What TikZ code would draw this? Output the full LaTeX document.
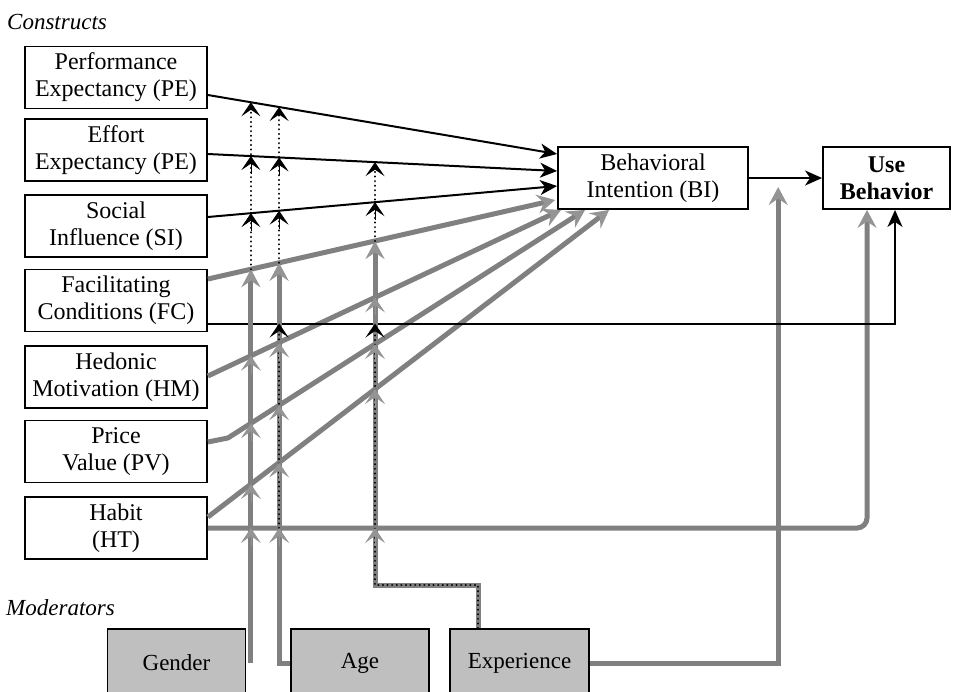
\documentclass[tikz,border=0pt]{standalone}
\usepackage{fontspec}
\setmainfont{Liberation Serif}
\usetikzlibrary{arrows.meta,calc,intersections}
\newcommand\crosstip[3]{%
  \path[name intersections={of=#2 and #3, by=xp}];
  \draw[#1] ($(xp)+(0,18)$) -- (xp);}
\begin{document}
\begin{tikzpicture}[x=1pt,y=-1pt,
  cbox/.style={draw=black, line width=1.8pt, minimum width=182pt, minimum height=62pt,
    inner sep=0pt, align=center, font=\fontsize{24}{27}\selectfont},
  mbox/.style={draw=black, line width=1.8pt, fill=black!25, minimum width=138pt,
    minimum height=68pt, inner sep=0pt, font=\fontsize{23}{27}\selectfont},
  lbl/.style={anchor=west, inner sep=0pt, font=\itshape\fontsize{23}{27}\selectfont},
  bline/.style={draw=black, line width=2pt, -{Stealth[length=17pt,width=15pt,inset=5pt]}},
  gline/.style={draw=black!50, line width=5pt, -{Stealth[length=18pt,width=19pt,inset=6.5pt,color=black!42]}},
  dotline/.style={draw=black, line width=2.2pt, line cap=round, dash pattern=on 0.1pt off 4.5pt,
    -{Stealth[length=14pt,width=19pt,inset=6.5pt]}},
  bxseg/.style={draw=black, line width=0.8pt, -{Stealth[length=14pt,width=19pt,inset=6.5pt]}},
  gxseg/.style={draw=black!42, line width=0.8pt, -{Stealth[length=15pt,width=20pt,inset=7pt]}},
]
\useasboundingbox (0,0) rectangle (953,691);
\coordinate (top) at (0,0);

% labels
\node[lbl] (lc) at (7,22) {Constructs};
\node[lbl] (lm) at (6,608) {Moderators};

% construct boxes
\node[cbox] (PE) at (116,77.5) {Performance\\Expectancy (PE)};
\node[cbox] (EE) at (116,150) {Effort\\Expectancy (PE)};
\node[cbox] (SI) at (116,226) {Social\\Influence (SI)};
\node[cbox] (FC) at (116,300.5) {Facilitating\\Conditions (FC)};
\node[cbox] (HM) at (116,377) {Hedonic\\Motivation (HM)};
\node[cbox] (PV) at (116,451.5) {Price\\Value (PV)};
\node[cbox] (HT) at (116,528) {Habit\\(HT)};
\node[cbox, minimum width=190pt] (BI) at (653,178) {Behavioral\\Intention (BI)};
\node[cbox, minimum width=127pt, font=\bfseries\fontsize{24}{27}\selectfont] (UB) at (886.5,178) {Use\\Behavior};

% moderator boxes
\node[mbox] (GEN) at (176.5,663) {Gender};
\node[mbox] (AGE) at (360,663) {Age};
\node[mbox, minimum width=139pt] (EXP) at (519.5,663) {Experience};

\coordinate (biub) at ($(BI.east)!0.4!(UB.west)$);

% gray construct paths
\draw[gline, name path=fcg] ($(FC.east)+(0,-21.5)$) -- ($(BI.west)+(-2,22)$);
\draw[gline, name path=hm] ($(HM.east)+(0,-1)$) -- ($(BI.south west)+(4,0)$);
\draw[gline, name path=pv] ($(PV.east)+(0,-9.5)$) -- ++(20,-4) -- ($(BI.south west)+(28,0)$);
\draw[gline, name path=htd] ($(HT.east)+(0,-11)$) -- ($(BI.south west)+(52,0)$);
\draw[gline, rounded corners=10pt, name path=hth] (HT.east) -| ($(UB.south)+(-19.5,0)$);
\draw[gline] (EXP.east) -| ($(biub)+(0,9)$);

% black construct paths
\draw[bline, name path=pe] ($(PE.east)+(0,17.5)$) -- ($(BI.west)+(0,-24)$);
\draw[bline, name path=ee] ($(EE.east)+(0,4)$) -- ($(BI.west)+(0,-7)$);
\draw[bline, name path=si] ($(SI.east)+(0,-9)$) -- ($(BI.west)+(0,8)$);
\draw[bline, name path=fcb] ($(FC.east)+(0,23)$) -| ($(UB.south)+(8.5,0)$);
\draw[bline] (BI.east) -- (UB.west);

% moderator line anchors
\coordinate (gx) at ($(GEN.east)+(4.5,0)$);
\coordinate (ax) at ($(AGE.west)+(-11,0)$);
\coordinate (ex0) at ($(EXP.north)+(-41.5,0)$);
\coordinate (ex1) at ($(ex0)+(0,-43)$);
\coordinate (ex) at ($(ex1)+(-103,0)$);
\path[name path=vG] (gx) -- (gx |- top);
\path[name path=vA] (ax) -- (ax |- top);
\path[name path=vE] (ex) -- (ex |- top);

\path[name intersections={of=vG and fcg, by=Gfcg}];
\path[name intersections={of=vG and pe, by=Gpe}];
\path[name intersections={of=vA and fcg, by=Afcg}];
\path[name intersections={of=vA and pe, by=Ape}];
\path[name intersections={of=vA and fcb, by=Afcb}];
\path[name intersections={of=vA and hth, by=Ahth}];
\path[name intersections={of=vE and fcg, by=Efcg}];
\path[name intersections={of=vE and ee, by=Eee}];
\path[name intersections={of=vE and fcb, by=Efcb}];

% gender
\draw[gline] (gx) -- (Gfcg);
\draw[dotline] (Gfcg) -- (Gpe);
% age
\draw[gline] (AGE.west) -- (ax) -- (Afcg);
\draw[dotline] (Ahth) -- (Afcb);
\draw[dotline] (Afcg) -- (Ape);
% experience
\draw[gline] (ex0) -- (ex1) -| (Efcg);
\draw[dotline] (ex0) -- (ex1) -| (Efcb);
\draw[dotline] (Efcg) -- (Eee);

% crossing tips
\crosstip{bxseg}{vG}{ee}
\crosstip{bxseg}{vG}{si}
\crosstip{gxseg}{vG}{hm}
\crosstip{gxseg}{vG}{pv}
\crosstip{gxseg}{vG}{htd}
\crosstip{gxseg}{vG}{hth}
\crosstip{bxseg}{vA}{ee}
\crosstip{bxseg}{vA}{si}
\crosstip{gxseg}{vA}{hm}
\crosstip{gxseg}{vA}{pv}
\crosstip{gxseg}{vA}{htd}
\crosstip{gxseg}{vA}{hth}
\crosstip{bxseg}{vE}{si}
\crosstip{gxseg}{vE}{hm}
\crosstip{gxseg}{vE}{pv}
\crosstip{gxseg}{vE}{htd}
\crosstip{gxseg}{vE}{hth}
\end{tikzpicture}
\end{document}
